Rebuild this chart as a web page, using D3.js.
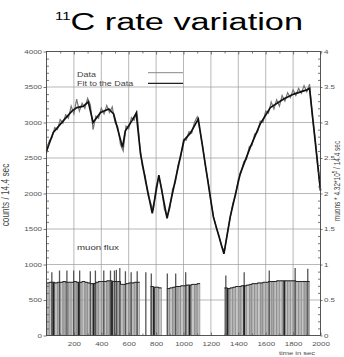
<!DOCTYPE html>
<html><head><meta charset="utf-8">
<script src="https://cdn.jsdelivr.net/npm/d3@7"></script>
<style>html,body{margin:0;padding:0;background:#fff;} svg{display:block;}</style>
</head><body>
<svg id="c" width="344" height="357"></svg>
<script>
// ---------- data ----------
const xTicks = [200,400,600,800,1000,1200,1400,1600,1800,2000];
const leftTicks = [0,500,1000,1500,2000,2500,3000,3500,4000];
const rightTicks = [0,0.5,1,1.5,2,2.5,3,3.5,4];
const rightTickLabels = ["0","0.5","1","1.5","2","2.5","3","3.5","4"];

// measured counts every 20 s (left axis)
const dataTime = d3.range(0, 2001, 20);
const dataRate = [2560,2740,2790,2930,2900,3040,2990,3110,3060,3230,
  3120,3330,3160,3270,3200,3340,3250,2900,3090,3060,
  3200,3120,3240,3140,3220,3000,2940,2690,2600,2950,
  2910,3070,3030,3170,2700,2380,2250,1980,1870,1760,
  2100,2230,2080,1780,1680,1790,2060,2150,2400,2520,
  2760,2750,2870,2850,3000,3080,2880,2670,2380,2170,
  1880,1670,1510,1400,1240,1200,1440,1650,1860,1970,
  2200,2290,2450,2480,2660,2680,2840,2860,3020,3000,
  3160,3130,3290,3190,3320,3230,3380,3300,3420,3350,
  3460,3380,3480,3410,3520,3430,3540,3100,2780,2380,2040];

// fit to the data
const fitTime = [0,50,125,185,222,270,305,340,395,455,490,555,575,625,655,686,723,772,820,880,974,1004,1050,1108,1218,1295,1341,1414,1487,1560,1634,1731,1805,1900,1920,2000];
const fitRate = [2600,2860,3030,3160,3210,3230,3290,3000,3140,3190,3120,2650,2880,3030,3130,2560,2180,1720,2260,1650,2490,2750,2850,3050,1670,1150,1670,2280,2650,2980,3210,3330,3400,3460,3480,2040];

// muon flux (right axis), 20 s bins
const muonBinStart = d3.range(0, 2000, 20);
const muonRate = [.74,.75,.75,.74,.75,.75,.76,.75,.75,.75,
  .76,.75,.75,.76,.75,.74,.73,.73,.75,.76,
  .76,.76,.77,.77,.76,.76,.76,.72,.72,.73,
  .74,.74,.75,.75,
  null,null,null,null,
  .69,.68,.68,.67,
  null,null,
  .66,.67,.68,.69,.69,.70,.70,.71,.71,.72,.72,.73,
  null,null,null,null,null,null,null,null,null,
  .67,.66,.67,.68,.69,.69,.70,.70,.71,.72,.73,.73,.74,.74,.75,.75,
  .76,.76,.76,.77,.77,.77,.77,.77,.77,.77,.76,.76,.76,.76,.76,
  null,null,null,null];
const spikeTime = [39,95,149,198,242,320,357,418,467,496,510,535,576,618,662,725,765,882,943,1016,1309,1443,1626,1815,1907];
const spikeRate = [0.89,0.915,0.915,0.915,0.915,0.905,0.915,0.915,0.915,0.915,0.925,0.95,0.905,0.89,0.905,0.89,0.875,0.875,0.875,0.89,0.845,0.89,0.915,0.95,0.94];
const darkTime = [51,234,344,478,784,1045,1321,1443,1736];
const darkRate = [0.75,0.75,0.74,0.76,0.68,0.71,0.67,0.71,0.77];

// ---------- drawing ----------
const svg = d3.select("#c");
const FONT = "'Liberation Sans', Arial, Helvetica, sans-serif";
const K = 1.42;
const x = d3.scaleLinear([0,2000],[46.5,320.5]);
const yL = d3.scaleLinear([0,4000],[335.5,51.5]);
const yR = d3.scaleLinear([0,4],[335.5,51.5]);

function stretch(sel, k){
  sel.each(function(){
    const w = this.getComputedTextLength();
    this.setAttribute("textLength", (w*k).toFixed(2));
    this.setAttribute("lengthAdjust","spacingAndGlyphs");
  });
}

// muon bars
const bins = muonBinStart.map((t,i)=>({t, v: muonRate[i], i})).filter(d=>d.v!=null);
const shades = ["#b4b4b4","#c6c6c6","#a6a6a6","#bebebe"];
svg.append("g").selectAll("rect").data(bins).join("rect")
  .attr("x", d=>x(d.t)).attr("width", d=>x(d.t+20)-x(d.t))
  .attr("y", d=>yR(d.v)).attr("height", d=>yR(0)-yR(d.v))
  .attr("fill", d=>shades[d.i%4]).attr("stroke","#7a7a7a").attr("stroke-width",0.5);

// gridlines
const grid = svg.append("g").attr("stroke","#9a9a9a").attr("stroke-width",0.7);
grid.selectAll(".gv").data(xTicks.slice(0,-1)).join("line")
  .attr("x1", d=>x(d)).attr("x2", d=>x(d)).attr("y1", yL(4000)).attr("y2", yL(0));
grid.selectAll(".gh").data(leftTicks.slice(1,-1)).join("line")
  .attr("x1", x(0)).attr("x2", x(2000)).attr("y1", d=>yL(d)).attr("y2", d=>yL(d));

// spikes and dark bars
svg.append("g").selectAll("line").data(spikeTime.map((t,i)=>({t, v: spikeRate[i]}))).join("line")
  .attr("x1", d=>x(d.t)).attr("x2", d=>x(d.t)).attr("y1", yR(0)).attr("y2", d=>yR(d.v))
  .attr("stroke","#555").attr("stroke-width",1.3);
svg.append("g").selectAll("line").data(darkTime.map((t,i)=>({t, v: darkRate[i]}))).join("line")
  .attr("x1", d=>x(d.t)).attr("x2", d=>x(d.t)).attr("y1", yR(0)).attr("y2", d=>yR(d.v))
  .attr("stroke","#222").attr("stroke-width",1.8);

// muon step line
const stepPts = [];
muonBinStart.forEach((t,i)=>{ stepPts.push({t, v: muonRate[i]}); stepPts.push({t: t+20, v: muonRate[i]}); });
svg.append("path").datum(stepPts)
  .attr("d", d3.line().defined(d=>d.v!=null).x(d=>x(d.t)).y(d=>yR(d.v)))
  .attr("fill","none").attr("stroke","#222").attr("stroke-width",1);

// data & fit
svg.append("path").datum(dataTime.map((t,i)=>({t, v: dataRate[i]})))
  .attr("d", d3.line().x(d=>x(d.t)).y(d=>yL(d.v)))
  .attr("fill","none").attr("stroke","#777").attr("stroke-width",1.2);
svg.append("path").datum(fitTime.map((t,i)=>({t, v: fitRate[i]})))
  .attr("d", d3.line().x(d=>x(d.t)).y(d=>yL(d.v)))
  .attr("fill","none").attr("stroke","#111").attr("stroke-width",1.7);

// axes
function styleAxis(g){
  g.select(".domain").remove();
  g.selectAll(".tick line").attr("stroke","#555").attr("stroke-width",0.8);
  g.selectAll("text").attr("fill","#555").style("font-family",FONT).style("font-size","5.6px");
}
const minorY = d3.range(100,4000,100).filter(v=>v%500!==0);
const minorX = d3.range(100,2000,200);
svg.append("g").attr("transform",`translate(${x(0)},0)`)
  .call(d3.axisLeft(yL).tickValues(leftTicks).tickSize(3).tickPadding(1.5).tickFormat(d3.format("d"))).call(styleAxis)
  .call(g=>stretch(g.selectAll("text"),K));
svg.append("g").attr("transform",`translate(${x(0)},0)`)
  .call(d3.axisLeft(yL).tickValues(minorY).tickSize(-2.5).tickFormat("")).call(styleAxis);
svg.append("g").attr("transform",`translate(${x(2000)},0)`)
  .call(d3.axisRight(yR).tickValues(rightTicks).tickSize(2).tickPadding(1.5).tickFormat((d,i)=>rightTickLabels[i])).call(styleAxis)
  .call(g=>stretch(g.selectAll("text"),K));
svg.append("g").attr("transform",`translate(${x(2000)},0)`)
  .call(d3.axisRight(yR).tickValues(minorY.map(v=>v/1000)).tickSize(-2.5).tickFormat("")).call(styleAxis);
svg.append("g").attr("transform",`translate(0,${yL(0)})`)
  .call(d3.axisBottom(x).tickValues(xTicks).tickSizeInner(-3).tickSizeOuter(0).tickPadding(6.5).tickFormat(d3.format("d"))).call(styleAxis)
  .call(g=>stretch(g.selectAll("text"),K));
svg.append("g").attr("transform",`translate(0,${yL(0)})`)
  .call(d3.axisBottom(x).tickValues(minorX).tickSize(-2).tickFormat("")).call(styleAxis);
svg.append("g").attr("transform",`translate(0,${yL(4000)})`)
  .call(d3.axisTop(x).tickValues(xTicks).tickSize(-3).tickFormat("")).call(styleAxis);
svg.append("g").attr("transform",`translate(0,${yL(4000)})`)
  .call(d3.axisTop(x).tickValues(minorX).tickSize(-2).tickFormat("")).call(styleAxis);

// frame
svg.append("rect").attr("x", x(0)).attr("y", yL(4000)).attr("width", x(2000)-x(0)).attr("height", yL(0)-yL(4000))
  .attr("fill","none").attr("stroke","#444").attr("stroke-width",0.9);

// title
const title = svg.append("text").attr("x",179).attr("y",29.5).attr("text-anchor","middle")
  .style("font-family",FONT).attr("fill","#000");
title.append("tspan").text("11").style("font-size","10px").attr("dy",-9.5);
title.append("tspan").text("C rate variation").style("font-size","23px").attr("dy",9.5);
title.attr("textLength",248).attr("lengthAdjust","spacingAndGlyphs");

// legend
const leg = svg.append("g").style("font-family",FONT);
leg.append("text").attr("x",77).attr("y",76.5).text("Data").attr("fill","#444").style("font-size","6.3px").call(s=>stretch(s,K));
leg.append("text").attr("x",77).attr("y",85.8).text("Fit to the Data").attr("fill","#444").style("font-size","6.3px").call(s=>stretch(s,K));
leg.append("line").attr("x1",148).attr("x2",183).attr("y1",72.7).attr("y2",72.7).attr("stroke","#888").attr("stroke-width",1);
leg.append("line").attr("x1",148).attr("x2",183).attr("y1",83.3).attr("y2",83.3).attr("stroke","#222").attr("stroke-width",1.3);

svg.append("text").attr("x",77).attr("y",249.5).text("muon flux").attr("fill","#333")
  .style("font-family",FONT).style("font-size","6.8px").call(s=>stretch(s,K));
svg.append("text").attr("x",315).attr("y",355).attr("text-anchor","end").text("time in sec").attr("fill","#444")
  .style("font-family",FONT).style("font-size","5.3px").call(s=>stretch(s,K));

// axis titles (rotated)
svg.append("text").attr("transform","translate(9,195) scale(1.4,1) rotate(-90)").attr("text-anchor","middle")
  .text("counts / 14.4 sec").attr("fill","#444").style("font-family",FONT).style("font-size","8.3px");
const rt = svg.append("text").attr("transform","translate(340,181) scale(1.4,1) rotate(-90)").attr("text-anchor","middle")
  .attr("fill","#444").style("font-family",FONT).style("font-size","6.5px");
rt.append("tspan").text("muons * 4.32*10");
rt.append("tspan").text("5").style("font-size","4.5px").attr("dy",-2.2);
rt.append("tspan").text(" / 14.4 sec").attr("dy",2.2);
</script>
</body></html>
